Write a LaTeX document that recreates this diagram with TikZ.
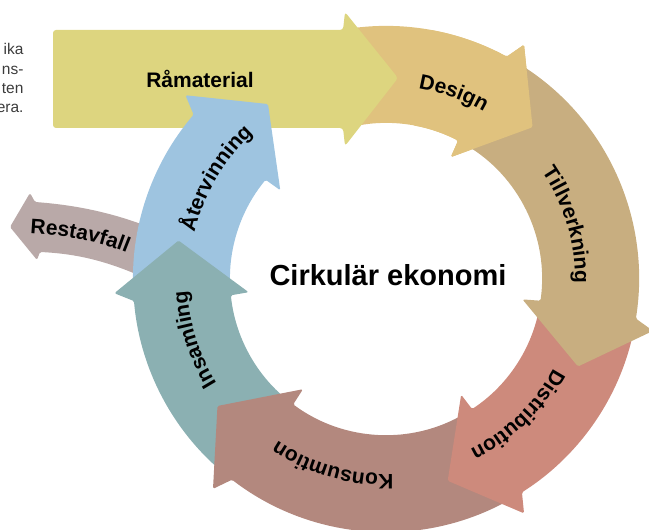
\documentclass[tikz,border=0pt]{standalone}
\usepackage{fontspec}
\setmainfont{Liberation Sans}
\usetikzlibrary{decorations.text}

\definecolor{ramcol}{RGB}{221,213,127}
\definecolor{descol}{RGB}{224,194,126}
\definecolor{tillcol}{RGB}{200,174,128}
\definecolor{distcol}{RGB}{205,138,124}
\definecolor{konscol}{RGB}{179,136,126}
\definecolor{inscol}{RGB}{139,176,178}
\definecolor{atercol}{RGB}{158,196,224}
\definecolor{restcol}{RGB}{185,169,168}
\definecolor{sidetext}{RGB}{60,60,60}

\newcommand{\lblfont}{\fontsize{21}{21}\selectfont\bfseries}

% ring segment: colour, tail angle, head angle
\newcommand{\ringarrow}[3]{%
  \fill[#1, rounded corners=1.5] (#2:\ro) arc[start angle=#2, end angle={#3+1}, radius=\ro]
    -- ({#3-1}:\rbo) -- ({#3-14.5}:\rt) -- ({#3+1.5}:\rbi) -- ({#3+2}:\ri)
    arc[start angle={#3+2}, end angle=#2, radius=\ri] -- cycle;}

% label along the ring: angle, baseline radius, text
\newcommand{\ringlabel}[3]{%
  \path[decorate, decoration={text along path, text align=center, text={|\lblfont|#3}}]
    ({#1+40}:#2) arc[start angle={#1+40}, end angle={#1-40}, radius=#2];}

\begin{document}
\begin{tikzpicture}[x=1pt, y=1pt]
    \useasboundingbox (0,0) rectangle (649,530);
    % ring radii
    \def \ro {253}
    \def \ri {156}
    \def \rbo {272}
    \def \rbi {138}
    \def \rt {211}

    \node (t1) at (27,475) [anchor=base east, text=sidetext, font=\fontsize{15.5}{16}\selectfont] {ika};
    \node (t2) at (27,455) [anchor=base east, text=sidetext, font=\fontsize{15.5}{16}\selectfont] {ns-};
    \node (t3) at (27,436) [anchor=base east, text=sidetext, font=\fontsize{15.5}{16}\selectfont] {ten};
    \node (t4) at (27,417) [anchor=base east, text=sidetext, font=\fontsize{15.5}{16}\selectfont] {era.};

    \begin{scope}[shift={(386,251)}]
        \ringarrow{descol}{100}{60.5}
    \end{scope}

    % Restavfall
    \fill[restcol, rounded corners=1.5] (170,294) .. controls (120,317) and (75,325) .. (35,328) -- (30,337) -- (10,303)
        -- (37,270) -- (40,278) .. controls (80,276) and (115,268) .. (170,240) -- cycle;

    % Råmaterial
    \fill[ramcol, rounded corners=3] (343,500) -- (345,518) -- (398,452) -- (345,384) -- (343,402) -- (53,402) -- (53,500) -- cycle;

    \begin{scope}[shift={(386,251)}]
        \ringarrow{atercol}{183.5}{138.5}
        \ringarrow{inscol}{231}{184}
        \ringarrow{konscol}{-59}{-128.5}
        \ringarrow{distcol}{-10.5}{-58.5}
        \ringarrow{tillcol}{60}{-10}
        \ringarrow{descol}{80}{60.5}

        \ringlabel{70}{193.5}{Design}
        \ringlabel{16.6}{189}{Tillverkning}
        \ringlabel{-46}{190}{Distribution}
        \ringlabel{-105.8}{195}{Konsumtion}
        \ringlabel{197.5}{199}{Insamling}
        \ringlabel{149.4}{197}{Återvinning}
    \end{scope}

    \path[decorate, decoration={text along path, text align=center, text={|\lblfont|Restavfall}}]
        (18,297) .. controls (60,296) and (100,290) .. (138,272);

    \node (ram) at (200,451) [font=\fontsize{21}{21}\selectfont\bfseries] {Råmaterial};
    \node (title) at (388,255) [font=\fontsize{29}{29}\selectfont\bfseries] {Cirkulär ekonomi};
\end{tikzpicture}
\end{document}
